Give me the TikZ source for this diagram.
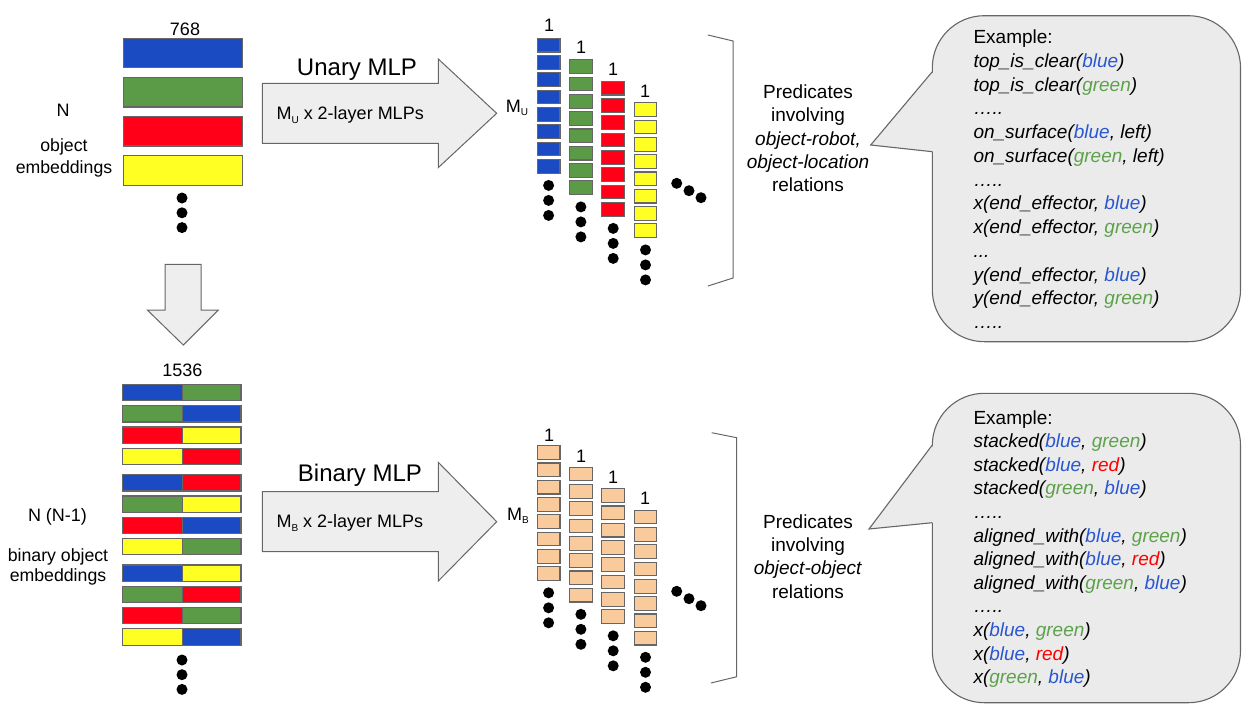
\documentclass[tikz,border=0pt]{standalone}
\usepackage{fontspec}
\setmainfont{Liberation Sans}
\newcommand{\sublabel}[1]{\raisebox{-3.5pt}{\fontsize{10}{10}\selectfont #1}}
\newcommand{\cblue}[1]{\textcolor{textBlue}{#1}}
\newcommand{\cgreen}[1]{\textcolor{textGreen}{#1}}
\newcommand{\cred}[1]{\textcolor{textRed}{#1}}
\begin{document}
\begin{tikzpicture}[x=1pt, y=-1pt, font=\fontsize{18}{21}\selectfont,
    bar/.style={draw=edgeColour, line width=1.2pt},
    cell/.style={draw=edgeColour, line width=1.1pt},
    bigarrow/.style={fill=arrowColour, draw=edgeColour, line width=1pt},
    callout/.style={fill=calloutColour, draw=edgeColour, line width=1.1pt, rounded corners=52pt},
    bracket/.style={draw=edgeColour, line width=1pt},
    predtext/.style={align=center, font=\fontsize{19}{23.3}\selectfont},
    extext/.style={anchor=base west, inner sep=0pt, font=\fontsize{19}{23.75}\selectfont\itshape}]
    % Define colours
    \definecolor{blueColour}{HTML}{1A4BC2}
    \definecolor{greenColour}{HTML}{5B9B48}
    \definecolor{redColour}{HTML}{FF0018}
    \definecolor{yellowColour}{HTML}{FFFF24}
    \definecolor{orangeColour}{HTML}{F9CB9C}
    \definecolor{edgeColour}{HTML}{666666}
    \definecolor{arrowColour}{HTML}{EEEEEE}
    \definecolor{calloutColour}{HTML}{EBEBEB}
    \definecolor{textBlue}{HTML}{2A56D0}
    \definecolor{textGreen}{HTML}{5DA24B}
    \definecolor{textRed}{HTML}{FF0000}

    \useasboundingbox (0,0) rectangle (1252,715);

    % Define offset between the two rows
    \def\rowShift{407.4}

    % Object embeddings
    \foreach \c [count=\i from 0] in {blueColour,greenColour,redColour,yellowColour}
        \draw[bar, fill=\c] (123.3,38.3+39.1*\i) rectangle ++(119,29.5);
    \foreach \k in {0,1,2}
        \fill (182,198+14.8*\k) circle (5.5pt);
    \node (dimUnary) at (185,29) {768};
    \node (countUnary) at (63,110) {N};
    \node[align=center, font=\fontsize{17.7}{22}\selectfont] (nameUnary) at (64,158) {object\\embeddings};

    % Down arrow
    \draw[bigarrow] (165,264.3) -- (201,264.3) -- (201,310) -- (218.3,310) -- (183.3,345) -- (147.3,310) -- (165,310) -- cycle;

    % Binary object embeddings
    \foreach \l/\r [count=\i from 0] in {blueColour/greenColour, greenColour/blueColour, redColour/yellowColour, yellowColour/redColour,
                                         blueColour/redColour, greenColour/yellowColour, redColour/blueColour, yellowColour/greenColour,
                                         blueColour/yellowColour, greenColour/redColour, redColour/greenColour, yellowColour/blueColour} {
        \pgfmathsetmacro\yTop{384.3+21.3*mod(\i,4)+90.3*int(\i/4)}
        \draw[bar, fill=\l] (122.7,\yTop) rectangle (182.3,\yTop+16.3);
        \draw[bar, fill=\r] (182.3,\yTop) rectangle (241,\yTop+16.3);
    }
    \foreach \k in {0,1,2}
        \fill (182,660+14.7*\k) circle (5.5pt);
    \node (dimBinary) at (182.3,370) {1536};
    \node (countBinary) at (57.5,516.7) {N (N-1)};
    \node[align=center, font=\fontsize{17.7}{20.6}\selectfont] (nameBinary) at (58,567) {binary object\\embeddings};

    % MLP arrows
    \draw[bigarrow] (262.3,83.3) -- (438.3,83.3) -- (438.3,59) -- (496.7,113.3) -- (438.3,167.6) -- (438.3,143.3) -- (262.3,143.3) -- cycle;
    \draw[bigarrow] (262.3,491.7) -- (438.3,491.7) -- (438.3,462.3) -- (496.7,521.7) -- (438.3,581) -- (438.3,551.7) -- (262.3,551.7) -- cycle;
    \node[font=\fontsize{24}{24}\selectfont] (titleUnary) at (357,70) {Unary MLP};
    \node[font=\fontsize{24}{24}\selectfont] (titleBinary) at (360,475) {Binary MLP};
    \node[anchor=west] (layersUnary) at (273,115) {M\sublabel{U} x 2-layer MLPs};
    \node[anchor=west] (layersBinary) at (273,523.3) {M\sublabel{B} x 2-layer MLPs};

    % Output stacks
    \foreach \c [count=\i from 0] in {blueColour,greenColour,redColour,yellowColour} {
        \foreach \j in {0,...,7} {
            \draw[cell, fill=\c] (537.3+32.3*\i,38.3+21.5*\i+17.3*\j) rectangle ++(22.7,13.7);
            \draw[cell, fill=orangeColour] (537.3+32.3*\i,38.3+\rowShift+21.5*\i+17.3*\j) rectangle ++(22.7,13.7);
        }
        \foreach \k in {0,1,2} {
            \fill (548.6+32.3*\i,185.4+21.5*\i+15*\k) circle (5.5pt);
            \fill (548.6+32.3*\i,185.4+\rowShift+21.5*\i+15*\k) circle (5.5pt);
        }
        \node at (549+32*\i,25+22*\i) {1};
        \node at (549+32*\i,435+21.2*\i) {1};
    }
    \node (sizeUnary) at (517,108) {M\sublabel{U}};
    \node (sizeBinary) at (518,516) {M\sublabel{B}};
    \foreach \x/\y in {676.7/183.3, 689/190.7, 701/197.7} {
        \fill (\x,\y) circle (5.5pt);
        \fill (\x,\y+408) circle (5.5pt);
    }

    % Brackets
    \draw[bracket] (708,35) -- (733,41) -- (733,278) -- (708,286);
    \draw[bracket] (711.7,432.7) -- (736.7,437.7) -- (736.7,676.7) -- (711,683);

    % Predicate descriptions
    \node[predtext] (predUnary) at (808,138.3) {Predicates\\involving\\\textit{object-robot,}\\\textit{object-location}\\relations};
    \node[predtext] (predBinary) at (808,556.3) {Predicates\\involving\\\textit{object-object}\\relations};

    % Callouts
    \draw[callout] (932.3,15.7) rectangle (1240.5,341.7);
    \fill[calloutColour] (933.5,71.7) -- (870.7,145) -- (933.5,151.7) -- cycle;
    \draw[bracket, line width=1.1pt, line join=miter] (932.3,71.7) -- (870.7,145) -- (932.3,151.7);

    \draw[callout] (932.3,393.3) rectangle (1240.5,702.7);
    \fill[calloutColour] (933.5,445) -- (869,529) -- (933.5,522.7) -- cycle;
    \draw[bracket, line width=1.1pt, line join=miter] (932.3,445) -- (869,529) -- (932.3,522.7);

    % Example predicates
    \foreach \txt [count=\k from 0] in {{\upshape Example:},
            {top\_is\_clear(\cblue{blue})},
            {top\_is\_clear(\cgreen{green})},
            {…..},
            {on\_surface(\cblue{blue}, left)},
            {on\_surface(\cgreen{green}, left)},
            {…..},
            {x(end\_effector, \cblue{blue})},
            {x(end\_effector, \cgreen{green})},
            {.{}.{}.},
            {y(end\_effector, \cblue{blue})},
            {y(end\_effector, \cgreen{green})},
            {…..}}
        \node[extext] (exUnary\k) at (973.3,43.5+23.75*\k) {\txt};
    \foreach \txt [count=\k from 0] in {{\upshape Example:},
            {stacked(\cblue{blue}, \cgreen{green})},
            {stacked(\cblue{blue}, \cred{red})},
            {stacked(\cgreen{green}, \cblue{blue})},
            {…..},
            {aligned\_with(\cblue{blue}, \cgreen{green})},
            {aligned\_with(\cblue{blue}, \cred{red})},
            {aligned\_with(\cgreen{green}, \cblue{blue})},
            {…..},
            {x(\cblue{blue}, \cgreen{green})},
            {x(\cblue{blue}, \cred{red})},
            {x(\cgreen{green}, \cblue{blue})}}
        \node[extext] (exBinary\k) at (973.3,424.1+23.6*\k) {\txt};

\end{tikzpicture}
\end{document}
